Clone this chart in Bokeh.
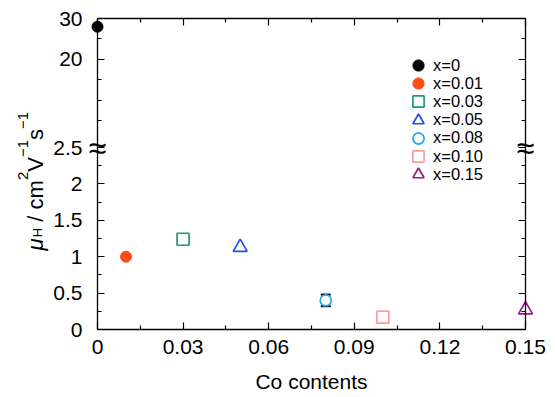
from math import pi
from bokeh.plotting import figure
from bokeh.models import (FixedTicker, Label, Legend, LegendItem, Whisker, TeeHead,
                          ColumnDataSource, LinearAxis, Range1d)
from bokeh.embed import file_html
from bokeh.resources import INLINE

# ---------------- data ----------------
co = [0.0, 0.01, 0.03, 0.05, 0.08, 0.10, 0.15]
mu = [28.0, 1.00, 1.24, 1.13, 0.40, 0.17, 0.27]
mu_err = [0.0, 0.0, 0.0, 0.0, 0.08, 0.0, 0.0]
names = ["x=0", "x=0.01", "x=0.03", "x=0.05", "x=0.08", "x=0.10", "x=0.15"]
markers = ["circle", "circle", "square", "triangle", "circle", "square", "triangle"]
colors = ["#000000", "#FF4A12", "#1F9A68", "#1F50E0", "#20A6F2", "#FF9C9C", "#9C1A8E"]
filled = [True, True, False, False, False, False, False]

x_ticks = [0.0, 0.03, 0.06, 0.09, 0.12, 0.15]
x_tick_labels = ["0", "0.03", "0.06", "0.09", "0.12", "0.15"]
x_minor = [0.015, 0.045, 0.075, 0.105, 0.135]
y_low_ticks = [0.0, 0.5, 1.0, 1.5, 2.0, 2.5]
y_low_labels = ["0", "0.5", "1", "1.5", "2", "2.5"]
y_low_minor = [0.25, 0.75, 1.25, 1.75, 2.25]
y_up_ticks = [20.0, 30.0]
y_up_labels = ["20", "30"]
y_up_minor = [5.0, 10.0, 15.0, 25.0]

# broken-axis mapping: lower segment 0..2.5 as is, upper segment compressed
BREAK = 2.5
UP_BASE = -1.5
UP_SCALE = 0.0563


def up(v):
    return BREAK + (v - UP_BASE) * UP_SCALE


def disp(v):
    return v if v <= BREAK else up(v)


X_MIN, X_MAX = x_ticks[0], x_ticks[-1]
Y_TOP = up(y_up_ticks[-1])

# canvas / axes-box geometry (pixels)
W, H = 555, 397
BOX_L, BOX_R, BOX_T, BOX_B = 97, 525, 18, 329
PX_X = (X_MAX - X_MIN) / (BOX_R - BOX_L)
PX_Y = Y_TOP / (BOX_B - BOX_T)
FONT = "Liberation Sans"

p = figure(width=W, height=H,
           x_range=Range1d(X_MIN - BOX_L * PX_X, X_MAX + (W - BOX_R) * PX_X),
           y_range=Range1d(-(H - BOX_B) * PX_Y, Y_TOP + BOX_T * PX_Y),
           output_backend="svg", toolbar_location=None,
           min_border=0, min_border_left=0, min_border_right=0,
           min_border_top=0, min_border_bottom=0)
p.grid.visible = False
p.outline_line_color = None
p.background_fill_color = "white"
p.border_fill_color = "white"

y_major = [disp(t) for t in y_low_ticks] + [up(t) for t in y_up_ticks]
y_minor = [disp(t) for t in y_low_minor] + [up(t) for t in y_up_minor]
y_over = {disp(t): l for t, l in zip(y_low_ticks, y_low_labels)}
y_over.update({up(t): l for t, l in zip(y_up_ticks, y_up_labels)})
x_over = {t: l for t, l in zip(x_ticks, x_tick_labels)}


def style(ax, ticks, minor, over, show, loc, bounds):
    ax.fixed_location = loc
    ax.bounds = bounds
    ax.ticker = FixedTicker(ticks=ticks, minor_ticks=minor)
    ax.axis_line_color = "black"
    ax.axis_line_width = 1.3
    ax.major_tick_line_color = "black"
    ax.minor_tick_line_color = "black"
    ax.major_tick_line_width = 1.2
    ax.minor_tick_line_width = 1.2
    ax.major_tick_in = 7
    ax.major_tick_out = 0
    ax.minor_tick_in = 4
    ax.minor_tick_out = 0
    ax.major_label_text_font = FONT
    ax.major_label_text_font_size = "21px"
    ax.major_label_text_color = "black"
    if show:
        ax.major_label_overrides = over
    else:
        ax.major_label_overrides = {t: "" for t in ticks}


style(p.xaxis[0], x_ticks, x_minor, x_over, True, 0.0, (X_MIN, X_MAX))
style(p.yaxis[0], y_major, y_minor, y_over, True, X_MIN, (0.0, Y_TOP))
p.xaxis[0].major_label_standoff = 10
p.yaxis[0].major_label_standoff = 15
p.xaxis[0].axis_label = "Co contents"
p.xaxis[0].axis_label_text_font = FONT
p.xaxis[0].axis_label_text_font_size = "21px"
p.xaxis[0].axis_label_text_font_style = "normal"
p.xaxis[0].axis_label_text_color = "black"
p.xaxis[0].axis_label_standoff = 13

right = LinearAxis()
style(right, y_major, y_minor, y_over, False, X_MAX, (0.0, Y_TOP))
p.add_layout(right, "right")
top = LinearAxis()
style(top, x_ticks, x_minor, x_over, False, Y_TOP, (X_MIN, X_MAX))
p.add_layout(top, "above")

# error bar
err_x = [c for c, e in zip(co, mu_err) if e > 0]
err_up = [disp(m + e) for m, e in zip(mu, mu_err) if e > 0]
err_lo = [disp(m - e) for m, e in zip(mu, mu_err) if e > 0]
esrc = ColumnDataSource(dict(x=err_x, upper=err_up, lower=err_lo))
p.add_layout(Whisker(source=esrc, base="x", upper="upper", lower="lower", dimension="height",
                     line_color="black", line_width=1.5,
                     upper_head=TeeHead(size=10, line_color="black", line_width=2),
                     lower_head=TeeHead(size=10, line_color="black", line_width=2)))

# markers + one legend entry per series (entries stacked 18 px apart)
LEG_X, LEG_TOP, LEG_STEP, GLYPH = 404, 65, 18.2, 28
for i, (c, m, n, mk, col, f) in enumerate(zip(co, mu, names, markers, colors, filled)):
    size = {"circle": 11, "square": 12, "triangle": 14}[mk]
    r = p.scatter(x=[c], y=[disp(m)], marker=mk, size=size,
                  fill_color=col if f else "white", line_color=col,
                  line_width=1.0 if f else 1.7)
    cy = LEG_TOP + i * LEG_STEP
    leg = Legend(items=[LegendItem(label=n, renderers=[r])],
                 location=(LEG_X, H - (cy + GLYPH / 2)),
                 glyph_width=GLYPH, glyph_height=GLYPH, label_height=GLYPH,
                 label_standoff=1, padding=0, margin=0, spacing=0, border_line_alpha=0,
                 background_fill_alpha=0, label_text_font=FONT, label_text_font_size="16.5px",
                 label_text_color="black")
    p.add_layout(leg)

# axis break marks
for bx in (X_MIN, X_MAX):
    p.add_layout(Label(x=bx, y=BREAK, text="≈", text_align="center", text_baseline="middle",
                       text_font=FONT, text_font_size="32px", text_color="black"))

# y axis label built from pieces (sub/superscripts); gap = space before piece (em of main font)
MAIN = 22
EM = {"μ": 0.576, "H": 0.722, "/": 0.278, "c": 0.5, "m": 0.833, "2": 0.556,
      "V": 0.667, "−": 0.584, "1": 0.556, "s": 0.5}
pieces = [("μ", MAIN, 0, "italic", 0.0), ("H", 13, 2, "normal", 0.03),
          ("/", MAIN, 0, "normal", 0.278), ("cm", MAIN, 0, "normal", 0.278),
          ("2", 15, -13, "normal", 0.0), ("V", MAIN, 0, "normal", 0.0),
          ("−1", 15, -13, "normal", 0.0), ("s", MAIN, 0, "normal", 0.0),
          ("−1", 15, -13, "normal", 0.0)]
base_x = 35 - BOX_L
pos = BOX_B - 250
for txt, fs, shift, style_, gap in pieces:
    pos += gap * MAIN
    p.add_layout(Label(x=X_MIN + (base_x + shift) * PX_X, y=pos * PX_Y, text=txt, angle=pi / 2,
                       text_align="left", text_baseline="alphabetic", text_font=FONT,
                       text_font_size=f"{fs}px", text_font_style=style_, text_color="black"))
    pos += sum(EM.get(ch, 0.55) for ch in txt) * fs

open("out.html", "w").write(file_html(p, INLINE))
